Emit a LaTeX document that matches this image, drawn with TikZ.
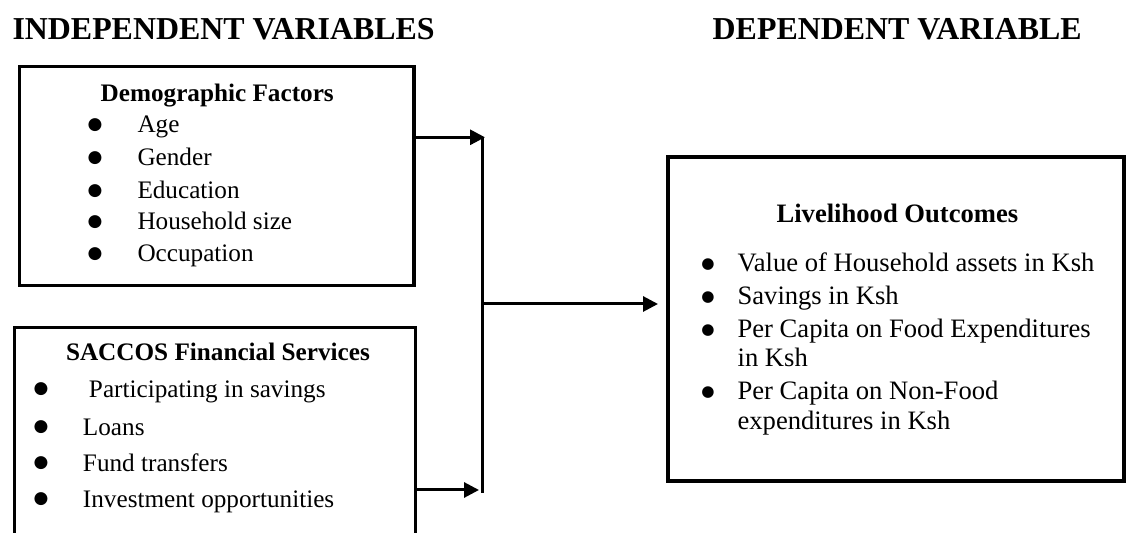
\documentclass[tikz,border=0pt]{standalone}
\usepackage{fontspec}
\setmainfont{Liberation Serif}
\newfontfamily\symf{DejaVu Sans}
\usetikzlibrary{arrows.meta}

\def\lw{1.75pt}
\def\blt{●}

\begin{document}
\begin{tikzpicture}[x=0.5pt, y=-0.5pt, every node/.style={inner sep=0, outer sep=0},
	box/.style={rectangle, draw, line width=\lw},
	link/.style={line width=1.5pt},
	arr/.style={line width=1.5pt, -{Triangle[length=7.5pt,width=7.5pt]}},
	title/.style={anchor=base west, font=\fontsize{15.95}{19}\selectfont\bfseries},
	head/.style={anchor=base west, font=\fontsize{12.6}{15}\selectfont\bfseries},
	item/.style={anchor=base west, font=\fontsize{12.6}{15}\selectfont},
	bul/.style={anchor=center, font=\symf\fontsize{8.5}{10}\selectfont},
	headr/.style={anchor=base west, font=\fontsize{13.3}{16}\selectfont\bfseries},
	itemr/.style={anchor=base west, font=\fontsize{13.3}{16}\selectfont},
	bulr/.style={anchor=center, font=\symf\fontsize{7.6}{9}\selectfont}]
	\useasboundingbox (0,0) rectangle (1126,533);
	\clip (0,0) rectangle (1126,533);

	\node (TI) at (12.5,40) [title] {INDEPENDENT VARIABLES};
	\node (TD) at (712.7,40) [title] {DEPENDENT VARIABLE};

	\node (DF) at (216.8,176.1) [box, minimum width=197.2pt, minimum height=109.4pt] {};
	\node (SF) at (215,443.85) [box, minimum width=200.7pt, minimum height=116.15pt] {};
	\node (LO) at (896,319) [box, minimum width=228pt, minimum height=162pt] {};

	\node (DFh) at (100.7,101.7) [head] {Demographic Factors};
	\node (DF1b) at (95,125) [bul] {\blt};
	\node (DF2b) at (95,157.7) [bul] {\blt};
	\node (DF3b) at (95,191) [bul] {\blt};
	\node (DF4b) at (95,222) [bul] {\blt};
	\node (DF5b) at (95,254) [bul] {\blt};
	\node (DF1) at (137.5,133) [item] {Age};
	\node (DF2) at (137.5,165.7) [item] {Gender};
	\node (DF3) at (137.5,199) [item] {Education};
	\node (DF4) at (137.5,230) [item] {Household size};
	\node (DF5) at (137.5,262) [item] {Occupation};

	\node (SFh) at (66,360.7) [head] {SACCOS Financial Services};
	\node (SF1b) at (41,389) [bul] {\blt};
	\node (SF2b) at (41,426.7) [bul] {\blt};
	\node (SF3b) at (41,463) [bul] {\blt};
	\node (SF4b) at (41,499) [bul] {\blt};
	\node (SF1) at (89,398) [item] {Participating in savings};
	\node (SF2) at (83,435.7) [item] {Loans};
	\node (SF3) at (83,472) [item] {Fund transfers};
	\node (SF4) at (83,508) [item] {Investment opportunities};

	\node (LOh) at (776.6,223) [headr] {Livelihood Outcomes};
	\node (LO1b) at (708,264.2) [bulr] {\blt};
	\node (LO2b) at (708,297.5) [bulr] {\blt};
	\node (LO3b) at (708,330.5) [bulr] {\blt};
	\node (LO4b) at (708,392.5) [bulr] {\blt};
	\node (LO1) at (737.6,271.7) [itemr] {Value of Household assets in Ksh};
	\node (LO2) at (737.6,305) [itemr] {Savings in Ksh};
	\node (LO3) at (737.6,338) [itemr] {Per Capita on Food Expenditures};
	\node (LO3x) at (737.6,366.7) [itemr] {in Ksh};
	\node (LO4) at (737.6,400) [itemr] {Per Capita on Non-Food};
	\node (LO4x) at (737.6,430) [itemr] {expenditures in Ksh};

	\coordinate (JT) at (482,137.3);
	\coordinate (JB) at (482,493);
	\coordinate (JM) at (482,304);
	\coordinate (A1) at (485,137.3);
	\coordinate (A2) at (479,490);
	\coordinate (A3) at (658,304);

	\draw[link] (JT) to (JB);
	\draw[arr] (DF.east |- A1) to (A1);
	\draw[arr] (SF.east |- A2) to (A2);
	\draw[arr] (JM) to (A3);
\end{tikzpicture}
\end{document}
